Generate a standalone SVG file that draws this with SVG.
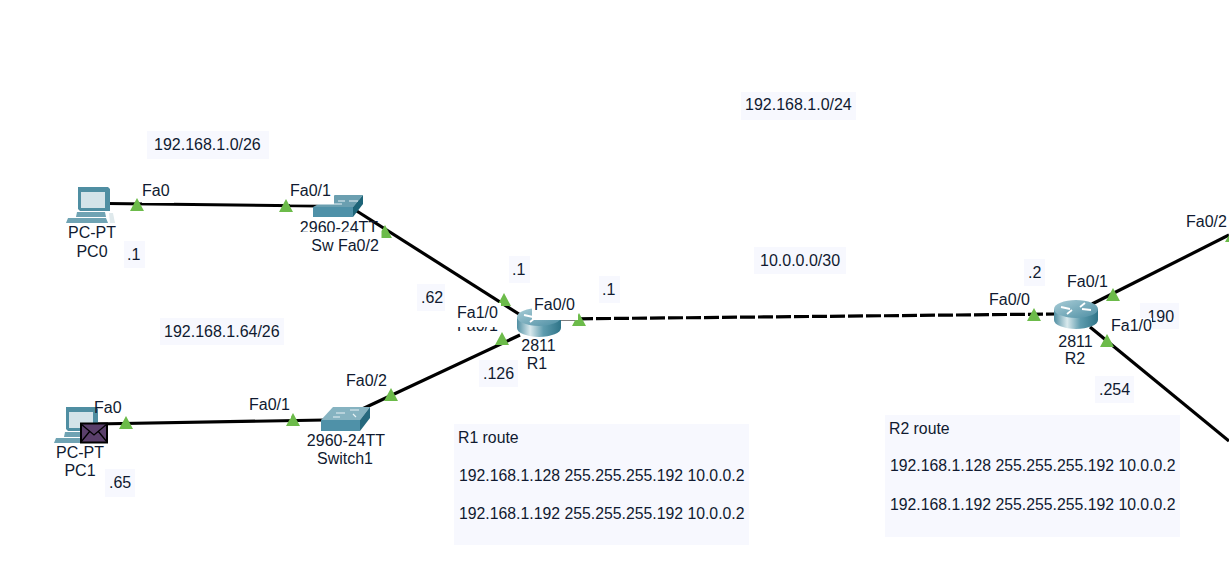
<svg xmlns="http://www.w3.org/2000/svg" width="1229" height="587" viewBox="0 0 1229 587">
<style>
text{font-family:"Liberation Sans",Arial,sans-serif;font-size:16px;fill:#101a30}
.r{font-size:15.800px}
.m{text-anchor:middle}
.bg{fill:#f7f8fe}
.w{fill:#fff}
.l{stroke:#000;stroke-width:3.200;fill:none}
.t{fill:#6cbb4a}
.s{stroke:#e8f2f5;stroke-width:1.200;fill:none}
</style>
<defs>
<linearGradient id="cyl" x1="0" x2="1" y1="0" y2="0"><stop offset="0" stop-color="#4f8ea2"/><stop offset=".3" stop-color="#d9e9ed"/><stop offset=".6" stop-color="#5f9cae"/><stop offset="1" stop-color="#2f7488"/></linearGradient>
<linearGradient id="top" x1="0" x2="1" y1="0" y2="1"><stop offset="0" stop-color="#a9cdd7"/><stop offset="1" stop-color="#4d8ea3"/></linearGradient>
<g id="router"><path d="M-22 -6V5A22 9 0 0 0 22 5V-6Z" fill="url(#cyl)"/><ellipse cx="0" cy="-6" rx="22" ry="9" fill="url(#top)"/><path d="M-15-8l9 2M15-5l-9-1M-9-1l5-4M9-12l-5 4" stroke="#fff" stroke-width="1.800" fill="none"/></g>
<g id="pc"><path d="M3 0H33L35 2V24H5L3 22Z" fill="#4f8ea2"/><rect x="6" y="5" width="24" height="16" fill="#d3e3e9"/><path d="M2 25H30L31 30H1Z" fill="#6fa3b3"/><path d="M-7 31H31L33 36H-9Z" fill="#6fa3b3"/><path d="M34 26H38L40 36H35Z" fill="#dfe9ec"/></g>
</defs>

<g id="notes">
<rect class="bg" x="147" y="131" width="122" height="28"/>
<text x="154" y="150">192.168.1.0/26</text>
<rect class="bg" x="741" y="92" width="115" height="28"/>
<text x="745" y="110">192.168.1.0/24</text>
<rect class="bg" x="160" y="318" width="124" height="27"/>
<text x="164" y="337">192.168.1.64/26</text>
<rect class="bg" x="754" y="247" width="92" height="27"/>
<text x="760" y="266">10.0.0.0/30</text>
<rect class="bg" x="124" y="241" width="21" height="27"/><text x="127" y="260">.1</text>
<rect class="bg" x="105" y="469" width="30" height="28"/><text x="109" y="488">.65</text>
<rect class="bg" x="417" y="284" width="28" height="27"/><text x="421" y="303">.62</text>
<rect class="bg" x="509" y="256" width="21" height="27"/><text x="512" y="275">.1</text>
<rect class="bg" x="599" y="276" width="21" height="27"/><text x="602" y="295">.1</text>
<rect class="bg" x="479" y="360" width="39" height="27"/><text x="483" y="379">.126</text>
<rect class="bg" x="1024" y="259" width="21" height="27"/><text x="1028" y="278">.2</text>
<rect class="bg" x="1140" y="303" width="39" height="26"/><text x="1143" y="322">.190</text>
<rect class="bg" x="1095" y="376" width="39" height="27"/><text x="1099" y="395">.254</text>
<rect class="bg" x="454" y="424" width="295" height="121"/>
<text class="r" x="458" y="443">R1 route</text>
<text class="r" x="459" y="481">192.168.1.128 255.255.255.192 10.0.0.2</text>
<text class="r" x="459" y="519">192.168.1.192 255.255.255.192 10.0.0.2</text>
<rect class="bg" x="885" y="415" width="295" height="122"/>
<text class="r" x="889" y="434">R2 route</text>
<text class="r" x="890" y="471">192.168.1.128 255.255.255.192 10.0.0.2</text>
<text class="r" x="890" y="510">192.168.1.192 255.255.255.192 10.0.0.2</text>
</g>

<g id="connectors">
<path class="l" d="M107 203.500L320 206"/>
<path class="l" d="M352 208L522 316"/>
<path class="l" d="M95 424L325 420"/>
<path class="l" d="M360 410L520 335"/>
<path class="l" d="M560 319L1056 314" stroke-dasharray="15 3"/>
<path class="l" d="M1092 304L1229 235"/>
<path class="l" d="M1090 327L1229 441"/>
</g>

<g id="PC0"><use href="#pc" x="75" y="187"/><text class="m" x="92" y="238">PC-PT</text><text class="m" x="92" y="257">PC0</text></g>
<g id="Sw">
<path d="M313 207L335 195H363L353 207Z" fill="#6b9fb0"/><path d="M353 207L363 195V204L353 217Z" fill="#1d6478"/><rect x="313" y="207" width="40" height="10" fill="#4f91a8"/>
<path class="s" d="M338 201H345M349 201H358M334 204H342"/>
</g>
<g id="PC1"><use href="#pc" x="63" y="407"/><rect x="81" y="423.500" width="26" height="19" fill="#5a3f6b" stroke="#000" stroke-width="2"/><path d="M81 424L94 435L107 424M81 442L90 431M107 442L98 431" fill="none" stroke="#000" stroke-width="1.300"/><text class="m" x="80" y="458">PC-PT</text><text class="m" x="80" y="476">PC1</text></g>
<g id="Switch1">
<path d="M321 420L333 407H370L360 420Z" fill="#86b3c1"/><path d="M360 420L370 407V418L360 431Z" fill="#26697e"/><rect x="321" y="420" width="39" height="11" fill="#4f91a8"/>
<path class="s" d="M336 413H345M350 410H359M333 417H340M353 414L356 417"/>
<text class="m" x="346" y="446">2960-24TT</text><text class="m" x="345" y="464">Switch1</text></g>
<g id="R1"><use href="#router" x="539" y="323"/><text class="m" x="538.500" y="351">2811</text><text class="m" x="537" y="369">R1</text></g>
<g id="R2"><use href="#router" x="1076" y="315"/><text class="m" x="1075.500" y="347">2811</text><text class="m" x="1075" y="364">R2</text></g>

<g id="ports">
<path class="t" d="M137 198L144 211H130Z"/><path class="t" d="M286 199L293 212H279Z"/>
<path class="t" d="M385 225L392 238H381.500V231Z"/><path class="t" d="M504 293L511 306H497Z"/>
<path class="t" d="M502 332L509 345H495Z"/><path class="t" d="M579 313L586 326H572Z"/>
<path class="t" d="M126 416L133 429H119Z"/><path class="t" d="M293 413L300 426H286Z"/>
<path class="t" d="M391 388L398 401H384Z"/><path class="t" d="M1034 308L1041 321H1027Z"/>
<path class="t" d="M1113 288L1120 301H1106Z"/><path class="t" d="M1107 334L1114 347H1100Z"/>
<path class="t" d="M1229 235V242H1225Z"/>
</g>

<g id="labels">
<rect class="w" x="142" y="184" width="32" height="19"/><text x="142" y="196">Fa0</text>
<rect class="w" x="290" y="184" width="44" height="20.500"/><text x="290" y="196">Fa0/1</text>
<text x="94" y="413">Fa0</text>
<rect class="w" x="248" y="398" width="43" height="20.500"/><text x="249" y="410">Fa0/1</text>
<text x="346" y="386">Fa0/2</text>
<text x="457" y="331">Fa0/1</text>
<rect class="w" x="455" y="303" width="46" height="24"/><text x="457" y="318">Fa1/0</text>
<rect class="w" x="532" y="298" width="46" height="22"/><text x="534" y="310">Fa0/0</text>
<text x="989" y="305">Fa0/0</text>
<text x="1067" y="287">Fa0/1</text>
<rect class="w" x="1110" y="318" width="42" height="16"/><text x="1111" y="331">Fa1/0</text>
<text x="1186" y="227">Fa0/2</text>
<text class="m" x="339" y="233">2960-24TT</text><rect class="w" x="300" y="232" width="80" height="22"/><text class="m" x="345" y="251">Sw Fa0/2</text>
</g>
</svg>
